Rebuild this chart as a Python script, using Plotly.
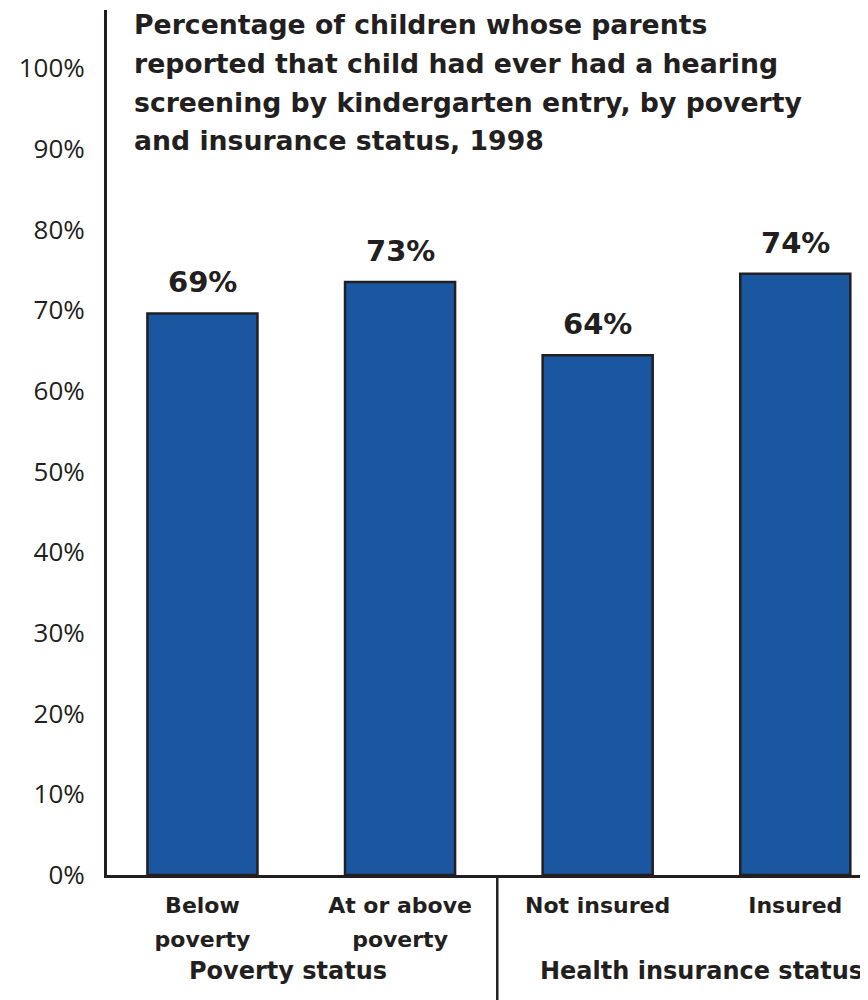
import plotly.graph_objects as go

# Data
categories = ["Below<br>poverty", "At or above<br>poverty", "Not insured", "Insured"]
bar_heights = [69.6, 73.5, 64.4, 74.5]   # bar tops as drawn in the picture
value_labels = ["69%", "73%", "64%", "74%"]
groups = ["Poverty status", "Health insurance status"]
y_ticks = [0, 10, 20, 30, 40, 50, 60, 70, 80, 90, 100]
y_tick_text = [f"{v}%" for v in y_ticks]
title_lines = ["Percentage of children whose parents",
               "reported that child had ever had a hearing",
               "screening by kindergarten entry, by poverty",
               "and insurance status, 1998"]

x_pos = list(range(len(categories)))
DARK = "#231f20"
BLUE = "#1b57a0"
BOLD_FONT = "DejaVu Sans"
TICK_FONT = "Open Sans"

fig = go.Figure()
fig.add_trace(go.Bar(
    x=x_pos, y=bar_heights, width=0.557,
    marker=dict(color=BLUE, line=dict(color=DARK, width=2.5)),
    hoverinfo="skip",
))

# value labels
for xp, h, lab in zip(x_pos, bar_heights, value_labels):
    fig.add_annotation(x=xp, y=h, text=f"<b>{lab}</b>", showarrow=False,
                       yanchor="middle", yshift=31, borderpad=0,
                       font=dict(family=BOLD_FONT, size=29, color=DARK))

# title, one annotation per line
title_y = [0.9827, 0.9382, 0.8936, 0.8497]
for ty, line in zip(title_y, title_lines):
    fig.add_annotation(xref="paper", yref="paper", x=0.0342, y=ty,
                       xanchor="left", yanchor="middle", align="left",
                       text=f"<b>{line}</b>", showarrow=False, borderpad=0,
                       font=dict(family=BOLD_FONT, size=26.7, color=DARK))

# group labels
group_x = [0.433, 2.523]
for gx, g in zip(group_x, groups):
    fig.add_annotation(x=gx, xref="x", yref="paper", y=-0.111,
                       yanchor="middle", text=f"<b>{g}</b>", showarrow=False,
                       font=dict(family=BOLD_FONT, size=24, color=DARK))

# separator line between groups
fig.add_shape(type="line", xref="x", yref="paper", x0=1.492, x1=1.492,
              y0=0, y1=-0.16, line=dict(color=DARK, width=2.5))

fig.update_layout(
    width=860, height=992,
    margin=dict(l=99, r=0, t=2, b=125, pad=0),
    paper_bgcolor="white", plot_bgcolor="white",
    showlegend=False,
)
fig.update_xaxes(
    range=[-0.483, 3.368], tickvals=x_pos,
    ticktext=[f'<span style="font-size:22px"><b>{c}</b></span>' for c in categories],
    tickfont=dict(family=BOLD_FONT, size=26, color=DARK),
    showline=True, linecolor=DARK, linewidth=3, showgrid=False, zeroline=False,
    ticks="", ticklabelstandoff=4,
)
fig.update_yaxes(
    range=[0, 107.2], tickvals=y_ticks, ticktext=y_tick_text,
    tickfont=dict(family=TICK_FONT, size=26, color=DARK),
    showline=True, linecolor=DARK, linewidth=3, showgrid=False, zeroline=False,
    ticks="", ticklabelstandoff=14,
)

fig.write_html("out.html")
